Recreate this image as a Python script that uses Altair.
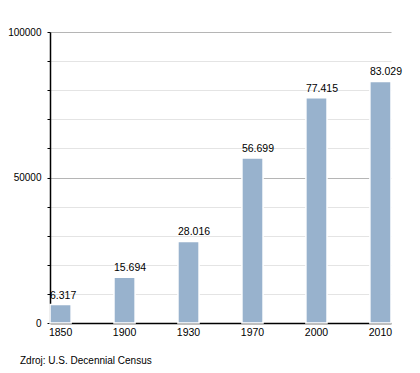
import altair as alt
import pandas as pd

years = ["1850", "1900", "1930", "1970", "2000", "2010"]
population = [6317, 15694, 28016, 56699, 77415, 83029]
labels = [f"{v:,}".replace(",", ".") for v in population]
source_text = "Zdroj: U.S. Decennial Census"
tick_values = [0, 10000, 20000, 30000, 40000, 50000, 60000, 70000, 80000, 90000, 100000]

df = pd.DataFrame({"year": years, "pop": population, "label": labels})

FONT = "Liberation Sans"

x_scale = alt.Scale(paddingInner=0.67, paddingOuter=0, align=1)
x_axis = alt.Axis(labelAngle=0, ticks=False, grid=False, domainColor="#000", domainWidth=1.5,
                  labelPadding=4, labelFontSize=10.5, labelColor="#000", labelFont=FONT)

y_scale = alt.Scale(domain=[0, 100000], nice=False)
y_axis = alt.Axis(values=tick_values, tickCount=20,
                  labelExpr="datum.value % 50000 === 0 ? datum.label : ''",
                  labelOverlap=False,
                  format="d", labelFontSize=10, labelColor="#000", labelFont=FONT,
                  labelPadding=6, tickSize=3, tickColor="#000",
                  domainColor="#000", domainWidth=1.5, grid=True,
                  gridColor={"condition": {"test": "datum.value % 50000 === 0", "value": "#b5b5b5"}, "value": "#e4e4e4"})

bars = alt.Chart(df).mark_bar(color="#98b2cd", stroke="white", strokeWidth=1.5).encode(
    x=alt.X("year:N", sort=years, title=None, scale=x_scale, axis=x_axis),
    y=alt.Y("pop:Q", title=None, scale=y_scale, axis=y_axis))

text = alt.Chart(df).mark_text(align="left", baseline="bottom", dy=-4, fontSize=10.5,
                               font=FONT, color="#000").encode(
    x=alt.X("year:N", sort=years, title=None, scale=x_scale, axis=x_axis, bandPosition=0),
    y=alt.Y("pop:Q", title=None, scale=y_scale, axis=y_axis),
    text="label:N")

src = alt.Chart(pd.DataFrame({"t": [source_text]})).mark_text(
    align="left", baseline="middle", fontSize=10, font=FONT, color="#000").encode(
    x=alt.value(-30), y=alt.value(329), text="t:N")

chart = alt.layer(bars, text, src).properties(
    width=341, height=291,
    autosize=alt.AutoSizeParams(type="none"),
    padding={"left": 42, "top": 24, "right": 20, "bottom": 48},
).configure_view(stroke=None)

chart.save("out.html", embed_options={"renderer": "svg", "actions": False})
